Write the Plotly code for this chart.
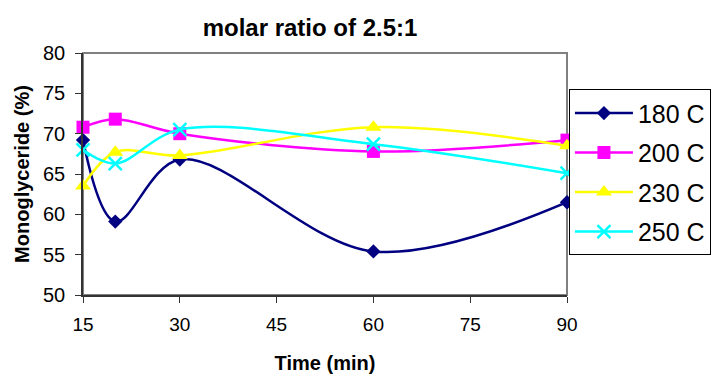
import plotly.graph_objects as go

time_min = [15, 20, 30, 60, 90]
series_names = ["180 C", "200 C", "230 C", "250 C"]
mono_180 = [69.2, 59.1, 66.8, 55.4, 61.5]
mono_200 = [70.8, 71.8, 70.0, 67.8, 69.2]
mono_230 = [63.5, 67.7, 67.3, 70.8, 68.5]
mono_250 = [68.0, 66.3, 70.5, 68.7, 65.1]
x_ticks = [15, 30, 45, 60, 75, 90]
y_ticks = [50, 55, 60, 65, 70, 75, 80]

values = [mono_180, mono_200, mono_230, mono_250]
colors = ["#000080", "#FF00FF", "#FFFF00", "#00FFFF"]
symbols = ["diamond", "square", "triangle-up", "x-thin"]
sizes = [11, 13, 14, 13]

fig = go.Figure()
for name, vals, c, s, sz in zip(series_names, values, colors, symbols, sizes):
    marker = dict(color=c, size=sz, symbol=s)
    if s == "x-thin":
        marker["line"] = dict(color=c, width=2.5)
    fig.add_trace(go.Scatter(
        x=time_min, y=vals, name=name, mode="lines+markers",
        line=dict(color=c, width=2.5, shape="spline", smoothing=1.0),
        marker=marker, legendgroup=name, cliponaxis=False,
    ))

fig.add_shape(type="rect", xref="paper", yref="paper", x0=0, y0=0, x1=1, y1=1,
              line=dict(color="#808080", width=2), layer="below")

fig.update_layout(
    width=711, height=374,
    margin=dict(l=83, r=144, t=53, b=79, autoexpand=False),
    paper_bgcolor="white", plot_bgcolor="white",
    font=dict(family="Arial, Liberation Sans, sans-serif", color="black"),
    title=dict(text="<b>molar ratio of 2.5:1</b>", x=0.436, xanchor="center",
               y=0.925, yanchor="middle", font=dict(size=24)),
    xaxis=dict(range=[15, 90], tickvals=x_ticks, showgrid=False, zeroline=False,
               showline=True, linecolor="#333333", linewidth=1.5,
               ticks="outside", ticklen=6, tickcolor="#333333",
               tickfont=dict(size=19), ticklabelstandoff=5,
               title=dict(text="<b>Time (min)</b>", font=dict(size=20), standoff=24)),
    yaxis=dict(range=[50, 80], tickvals=y_ticks, showgrid=False, zeroline=False,
               showline=True, linecolor="#333333", linewidth=1.5,
               ticks="outside", ticklen=6, tickcolor="#333333",
               tickfont=dict(size=20), ticklabelstandoff=6,
               title=dict(text="<b>Monoglyceride (%)</b>", font=dict(size=20), standoff=8)),
    legend=dict(x=1.004, y=0.85, xanchor="left", yanchor="top",
                bordercolor="black", borderwidth=1, bgcolor="white",
                font=dict(size=25), tracegroupgap=4, itemwidth=58,
                traceorder="grouped"),
    showlegend=True,
)

fig.write_html("out.html")
